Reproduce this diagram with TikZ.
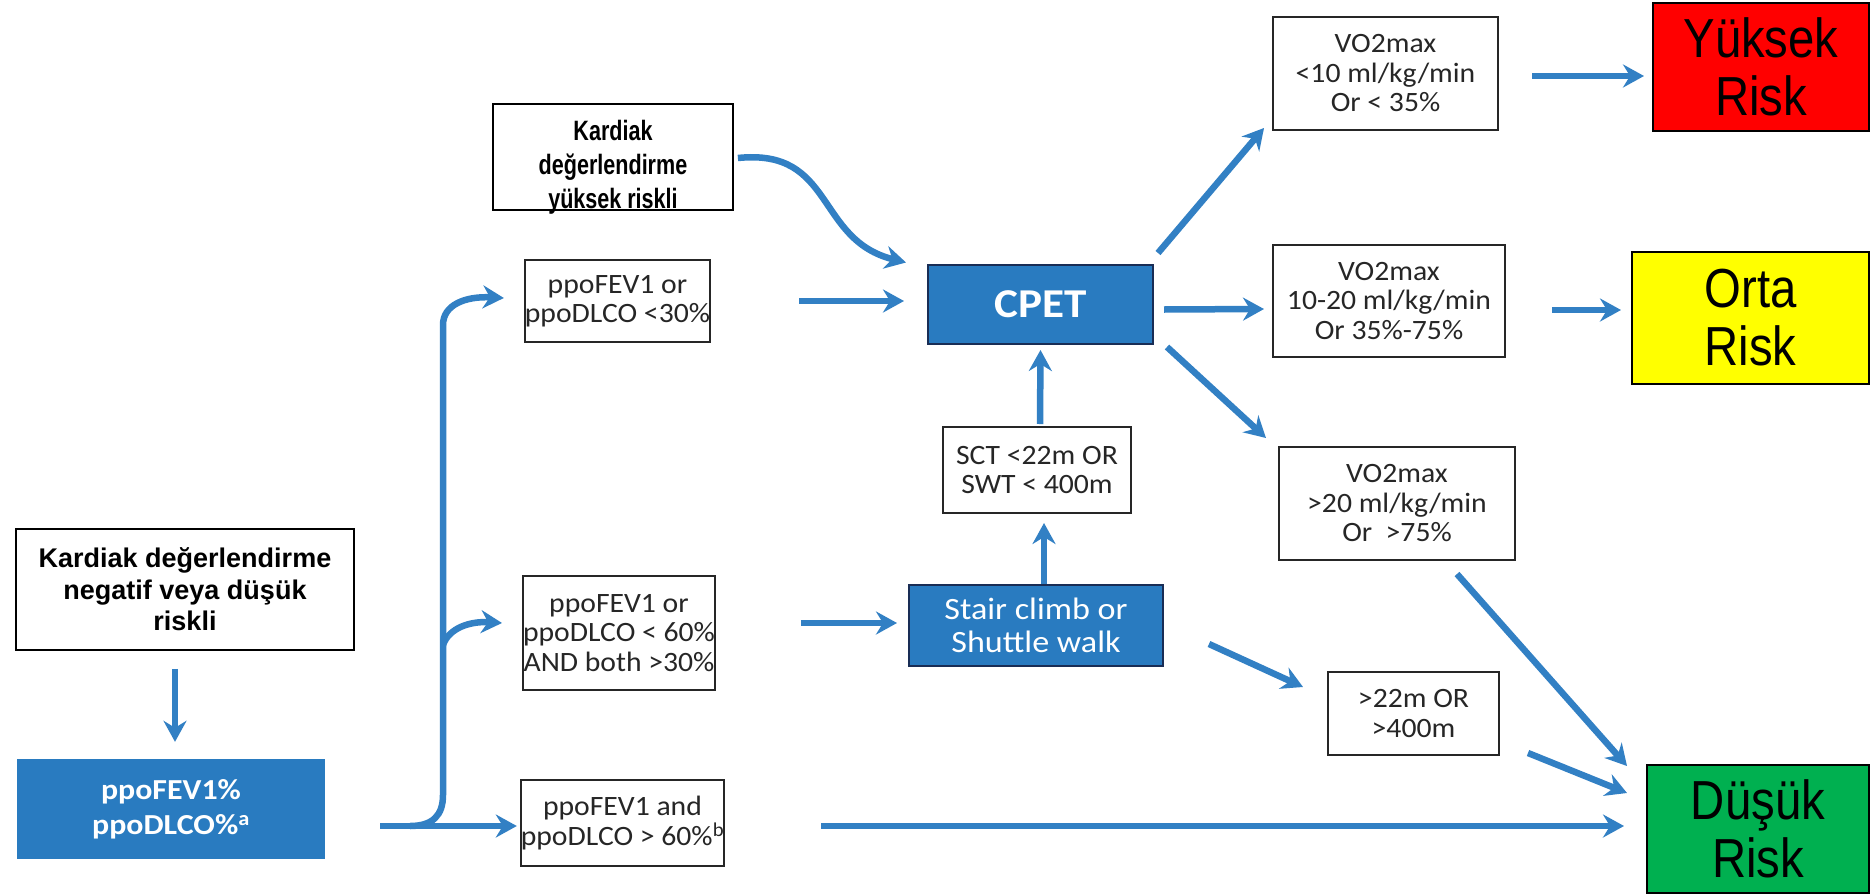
\documentclass[tikz,border=0pt]{standalone}
\usepackage{fontspec}
\setmainfont{Carlito}
\newfontfamily\calf[FakeStretch=1.06]{Carlito}
\newfontfamily\calw[FakeStretch=1.1]{Carlito}
\newfontfamily\arf{Liberation Sans}
\newfontfamily\narb[FakeStretch=0.77]{Liberation Sans}
\newfontfamily\riskf[FakeStretch=0.86]{Liberation Sans}
\usetikzlibrary{arrows.meta}
\definecolor{boxblue}{RGB}{41,123,192}
\definecolor{arrowblue}{RGB}{50,128,196}
\definecolor{navy}{RGB}{25,45,85}
\definecolor{riskred}{RGB}{255,0,0}
\definecolor{riskyellow}{RGB}{255,255,0}
\definecolor{riskgreen}{RGB}{0,176,80}
\begin{document}
\begin{tikzpicture}[x=1pt,y=-1pt,
  wbox/.style={draw=black!85, line width=2pt, fill=white, inner sep=0pt, align=center,
    font=\calf\fontsize{28}{29.5}\selectfont, text=black!85},
  kbox/.style={draw=black, line width=1.8pt, fill=white, inner sep=0pt, align=center,
    font=\arf\bfseries\fontsize{27}{31.5}\selectfont},
  bluenode/.style={fill=boxblue, inner sep=0pt, align=center, text=white},
  riskbox/.style={draw=black, line width=2pt, inner sep=0pt, align=center,
    font=\riskf\fontsize{55}{58}\selectfont},
  arr/.style={draw=arrowblue, line width=6.5pt, -{Stealth[length=21pt,width=23pt,inset=7pt]}},
]
\useasboundingbox (0,0) rectangle (1871,894);
\fill[white] (0,0) rectangle (1871,894);

% nodes
\node[kbox, minimum width=338pt, minimum height=121pt] (neg) at (185,589.5)
  {Kardiak değerlendirme\\negatif veya düşük\\riskli};
\node[bluenode, minimum width=308pt, minimum height=100pt,
  font=\calw\bfseries\fontsize{29}{35}\selectfont] (ppo) at (171,809)
  {ppoFEV1\%\\ppoDLCO\%\textsuperscript{a}};
\node[kbox, minimum width=240pt, minimum height=106pt] (high) at (613,157)
  {\raisebox{-17pt}[0pt][0pt]{\narb\bfseries\fontsize{28}{34}\selectfont\def\arraystretch{1}%
   \begin{tabular}{@{}c@{}}Kardiak\\değerlendirme\\yüksek riskli\end{tabular}}};
\node[wbox, minimum width=181pt, minimum height=82pt] (lt30) at (617.5,301)
  {ppoFEV1 or\\ppoDLCO <30\%};
\node[wbox, minimum width=184pt, minimum height=114pt] (lt60) at (619,633)
  {ppoFEV1 or\\ppoDLCO < 60\%\\AND both >30\%};
\node[wbox, minimum width=191pt, minimum height=86pt] (gt60) at (622.5,823)
  {ppoFEV1 and\\ppoDLCO > 60\%\textsuperscript{b}};
\node[bluenode, draw=navy, line width=2pt, minimum width=225pt, minimum height=79pt,
  font=\calw\bfseries\fontsize{41}{45}\selectfont] (cpet) at (1040.5,304.5) {CPET};
\node[wbox, minimum width=188pt, minimum height=86pt] (sct) at (1037,470)
  {SCT <22m OR\\SWT < 400m};
\node[bluenode, draw=navy, line width=2pt, minimum width=254pt, minimum height=81pt,
  font=\calw\fontsize{31}{33}\selectfont] (stair) at (1036,625.5)
  {Stair climb or\\Shuttle walk};
\node[wbox, minimum width=225pt, minimum height=113pt] (vo10) at (1385.5,73.5)
  {VO2max\\<10 ml/kg/min\\Or < 35\%};
\node[wbox, minimum width=232pt, minimum height=112pt] (vo1020) at (1389,301)
  {VO2max\\10-20 ml/kg/min\\Or 35\%-75\%};
\node[wbox, minimum width=236pt, minimum height=113pt] (vo20) at (1397,503.5)
  {VO2max\\>20 ml/kg/min\\Or~~>75\%};
\node[wbox, minimum width=171pt, minimum height=83pt] (gt22) at (1413.5,713.5)
  {>22m OR\\>400m};
\node[riskbox, fill=riskred, minimum width=216pt, minimum height=128pt] (yuksek) at (1761,67)
  {Yüksek\\Risk};
\node[riskbox, fill=riskyellow, minimum width=237pt, minimum height=132pt] (orta) at (1750.5,318)
  {Orta\\Risk};
\node[riskbox, fill=riskgreen, minimum width=222pt, minimum height=128pt] (dusuk) at (1758,829)
  {Düşük\\Risk};

% free coordinates of the branching trunk
\coordinate (split) at (380,826);
\coordinate (tj) at (443,645);

% connectors
\draw[arr] ([shift={(-10,18)}]neg.south) -- ([shift={(4,-17)}]ppo.north);
\draw[arr] (split) -- ([shift={(-3,3)}]gt60.west);
\draw[arr] ([shift={(30,0)}]split) .. controls (433,826) and (443,815) .. (443,795)
  -- (443,325) .. controls (443,305) and (465,296) .. ([shift={(-20,-3)}]lt30.west);
\draw[arr] (tj) .. controls (449,628) and (470,621) .. ([shift={(-20,-10)}]lt60.west);
\draw[arr] ([shift={(4,1)}]high.east) .. controls (835,148) and (815,240) .. ([shift={(-21,-42)}]cpet.west);
\draw[arr] ([shift={(88,0)}]lt30.east) -- ([shift={(-23,-3.5)}]cpet.west);
\draw[arr] ([shift={(85,-10)}]lt60.east) -- ([shift={(-11,-2.5)}]stair.west);
\draw[arr] ([shift={(10,5)}]cpet.east) -- ([shift={(-8,8)}]vo1020.west);
\draw[arr] ([shift={(46,9)}]vo1020.east) -- ([shift={(-10,-8)}]orta.west);
\draw[arr] ([shift={(33,2.5)}]vo10.east) -- ([shift={(-8,9)}]yuksek.west);
\draw[arr] ([shift={(4,-11)}]cpet.north east) -- ([shift={(-8,-3)}]vo10.south west);
\draw[arr] ([shift={(13,2)}]cpet.south east) -- ([shift={(-12,-8)}]vo20.north west);
\draw[arr] ([shift={(3,-2)}]sct.north) -- ([shift={(0,5)}]cpet.south);
\draw[arr] ([shift={(8,0)}]stair.north) -- ([shift={(7,9)}]sct.south);
\draw[arr] ([shift={(45,18.5)}]stair.east) -- ([shift={(-24,16)}]gt22.north west);
\draw[arr] ([shift={(-59,13)}]vo20.south east) -- ([shift={(-19,2)}]dusuk.north west);
\draw[arr] ([shift={(28,-3)}]gt22.south east) -- ([shift={(-19,-36)}]dusuk.west);
\draw[arr] ([shift={(96,3)}]gt60.east) -- ([shift={(-22,-3)}]dusuk.west);
\end{tikzpicture}
\end{document}
